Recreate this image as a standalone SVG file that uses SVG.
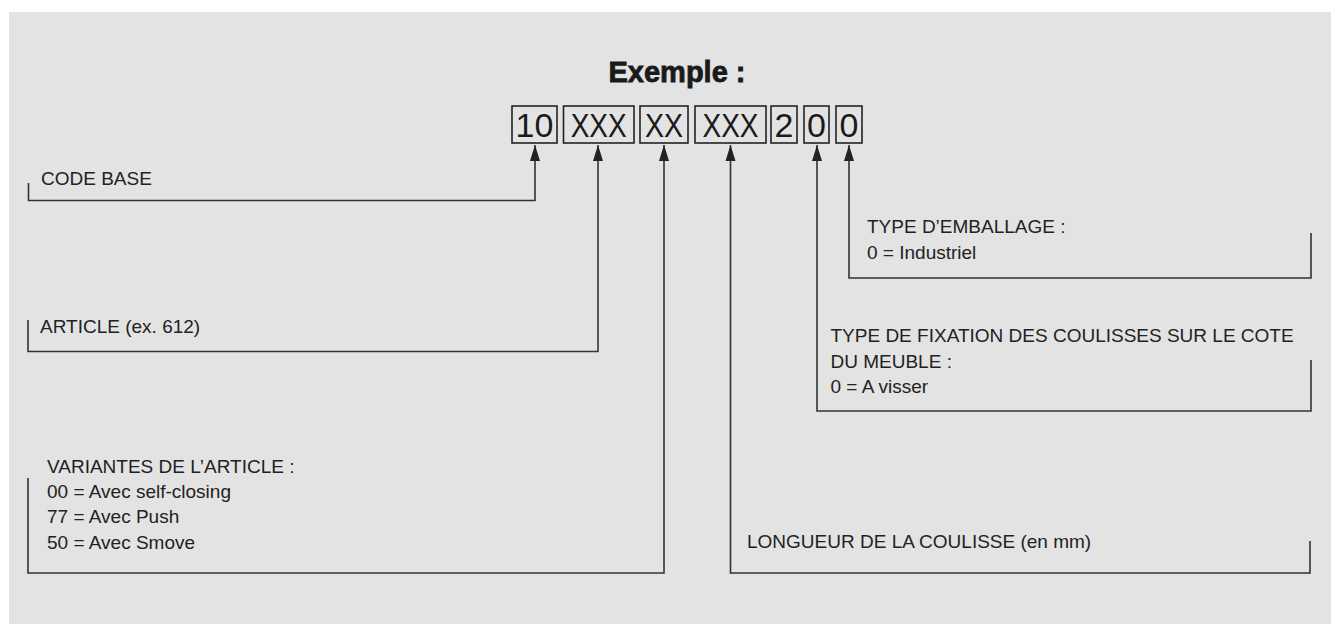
<svg xmlns="http://www.w3.org/2000/svg" width="1331" height="624" viewBox="0 0 1331 624">
  <style>
    .lbl { font-family: "Liberation Sans", Arial, sans-serif; font-size: 19px; fill: #222; }
    .code { font-family: "Liberation Sans", Arial, sans-serif; font-size: 34px; fill: #1a1a1a; text-anchor: middle; }
    .box { fill: none; stroke: #222; stroke-width: 1.6; }
    .conn { fill: none; stroke: #333; stroke-width: 1.6; }
    .title { font-family: "Liberation Sans", Arial, sans-serif; font-size: 29px; font-weight: bold; fill: #1a1a1a; stroke: #1a1a1a; stroke-width: 0.8; text-anchor: middle; }
  </style>
  <defs>
    <marker id="arrow" markerUnits="userSpaceOnUse" markerWidth="17" markerHeight="11" refX="16" refY="5.5" orient="auto">
      <path d="M0,0.5 L16,5.5 L0,10.5 z" fill="#222"/>
    </marker>
  </defs>
  <rect x="0" y="0" width="1331" height="624" fill="#ffffff"/>
  <rect x="9" y="12" width="1322" height="612" fill="#e3e3e3"/>

  <g id="title">
    <text class="title" x="677" y="82">Exemple :</text>
  </g>

  <g id="code">
    <g id="seg-10"><rect class="box" x="512" y="106" width="45" height="37"/><text class="code" x="534.5" y="137">10</text></g>
    <g id="seg-xxx1"><rect class="box" x="563.5" y="106" width="70.5" height="37"/><text class="code" x="598.7" y="137" textLength="56" lengthAdjust="spacingAndGlyphs">XXX</text></g>
    <g id="seg-xx"><rect class="box" x="640" y="106" width="48" height="37"/><text class="code" x="664" y="137" textLength="38" lengthAdjust="spacingAndGlyphs">XX</text></g>
    <g id="seg-xxx2"><rect class="box" x="695" y="106" width="71" height="37"/><text class="code" x="730.5" y="137" textLength="56" lengthAdjust="spacingAndGlyphs">XXX</text></g>
    <g id="seg-2"><rect class="box" x="771" y="106" width="26" height="37"/><text class="code" x="784" y="137">2</text></g>
    <g id="seg-0a"><rect class="box" x="804" y="106" width="25" height="37"/><text class="code" x="816.5" y="137">0</text></g>
    <g id="seg-0b"><rect class="box" x="836" y="106" width="26" height="37"/><text class="code" x="849" y="137">0</text></g>
  </g>

  <g id="connectors">
    <path class="conn" d="M28.5,183 V200.5 H535 V145" marker-end="url(#arrow)"/>
    <path class="conn" d="M28,320 V351.5 H598 V145" marker-end="url(#arrow)"/>
    <path class="conn" d="M28,478 V573 H664 V145" marker-end="url(#arrow)"/>
    <path class="conn" d="M1310,541 V573 H730.5 V145" marker-end="url(#arrow)"/>
    <path class="conn" d="M1311,360 V411 H817 V145" marker-end="url(#arrow)"/>
    <path class="conn" d="M1311,233 V278 H849 V145" marker-end="url(#arrow)"/>
  </g>

  <g id="label-code-base">
    <text class="lbl" x="41" y="185">CODE BASE</text>
  </g>
  <g id="label-article">
    <text class="lbl" x="40" y="333">ARTICLE (ex. 612)</text>
  </g>
  <g id="label-variantes">
    <text class="lbl" x="47" y="472.7">VARIANTES DE L’ARTICLE :</text>
    <text class="lbl" x="47" y="497.7">00 = Avec self-closing</text>
    <text class="lbl" x="47" y="523.3">77 = Avec Push</text>
    <text class="lbl" x="47" y="549">50 = Avec Smove</text>
  </g>
  <g id="label-emballage">
    <text class="lbl" x="867" y="233">TYPE D’EMBALLAGE :</text>
    <text class="lbl" x="867" y="259">0 = Industriel</text>
  </g>
  <g id="label-fixation">
    <text class="lbl" x="830.5" y="341.7">TYPE DE FIXATION DES COULISSES SUR LE COTE</text>
    <text class="lbl" x="830.5" y="367.7">DU MEUBLE :</text>
    <text class="lbl" x="830.5" y="393.3">0 = A visser</text>
  </g>
  <g id="label-longueur">
    <text class="lbl" x="747" y="548">LONGUEUR DE LA COULISSE (en mm)</text>
  </g>
</svg>
